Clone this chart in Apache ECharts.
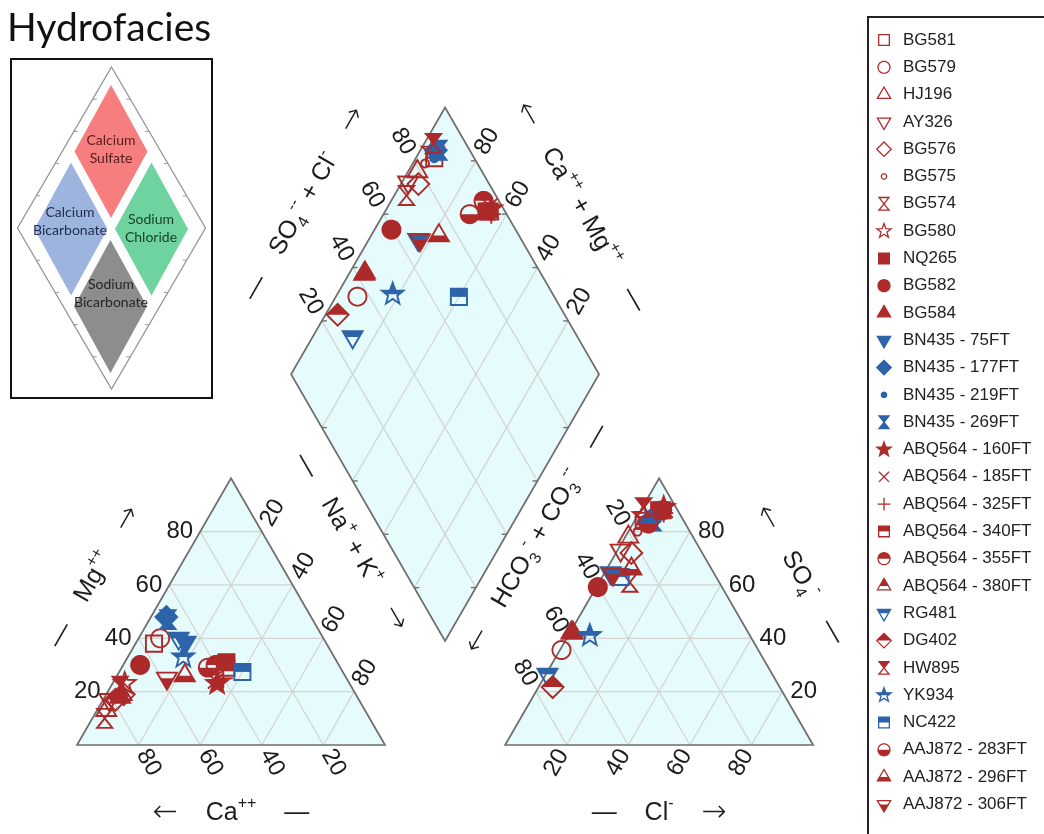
<!DOCTYPE html>
<html>
<head>
<meta charset="utf-8">
<title>Hydrofacies – Piper diagram</title>
<script src="https://cdn.jsdelivr.net/npm/echarts/dist/echarts.min.js"></script>
<style>
  html, body { margin: 0; padding: 0; background: #ffffff; }
  #chart { width: 1044px; height: 834px; }
</style>
</head>
<body>
<div id="chart"></div>
<script>
// ---------------------------------------------------------------------------
// Sample data (percent of total meq/L)
// ---------------------------------------------------------------------------
const samples = [
  'BG581', 'BG579', 'HJ196', 'AY326', 'BG576', 'BG575', 'BG574', 'BG580',
  'NQ265', 'BG582', 'BG584', 'BN435 - 75FT', 'BN435 - 177FT', 'BN435 - 219FT',
  'BN435 - 269FT', 'ABQ564 - 160FT', 'ABQ564 - 185FT', 'ABQ564 - 325FT',
  'ABQ564 - 340FT', 'ABQ564 - 355FT', 'ABQ564 - 380FT', 'RG481', 'DG402',
  'HW895', 'YK934', 'NC422', 'AAJ872 - 283FT', 'AAJ872 - 296FT', 'AAJ872 - 306FT'
];
const markerShapes = [
  'square', 'circle', 'triangle', 'triangleDown', 'diamond', 'dot', 'hourglass', 'star',
  'square', 'circle', 'triangle', 'triangleDown', 'diamond', 'dot',
  'hourglass', 'star', 'cross', 'plus',
  'square', 'circle', 'triangle', 'triangleDown', 'diamond',
  'hourglass', 'star', 'square', 'circle', 'triangle', 'triangleDown'
];
const markerFills = [
  'open', 'open', 'open', 'open', 'open', 'open', 'open', 'open',
  'full', 'full', 'full', 'full', 'full', 'full',
  'full', 'full', 'line', 'line',
  'top', 'top', 'top', 'top', 'top',
  'top', 'top', 'top', 'bottom', 'bottom', 'bottom'
];
const markerColors = [
  'r', 'r', 'r', 'r', 'r', 'r', 'r', 'r',
  'r', 'r', 'r', 'b', 'b', 'b',
  'b', 'r', 'r', 'r',
  'r', 'r', 'r', 'b', 'r',
  'r', 'b', 'b', 'r', 'r', 'r'
];

// Cations
const caPct  = [56, 53, 84, 81, 75.3, 76, 86, 73, 36, 64.5, 77, 45.5, 47, 48, 47, 43, 43, 40, 37, 40, 76, 47, 79, 75, 49, 32.6, 43, 52, 58.3];
const mgPct  = [38, 40, 13, 17, 19, 20, 10, 23, 31, 30, 18, 38.5, 48, 46, 47, 23, 24, 25, 29, 30, 19, 40, 17, 22, 33, 27.4, 29, 26, 25];
const naKPct = [6, 7, 3, 2, 5.7, 4, 4, 4, 33, 5.5, 5, 16, 5, 6, 6, 34, 33, 35, 34, 30, 5, 13, 4, 3, 18, 40, 28, 22, 16.7];
// Anions
const clPct   = [3, 0.5, 1, 1, 5, 3, 10, 2, 6, 0.5, 0.5, 2, 5, 4, 6, 7, 8, 8, 7, 7, 1, 0.5, 4.6, 0.5, 7, 6, 5, 8, 3];
const so4Pct  = [84, 35.6, 78, 73, 72, 80, 61, 86, 88, 59.2, 42, 64.5, 84, 83, 84, 89, 88, 87, 88, 88, 42, 26.5, 21.7, 89, 41, 63, 83, 66, 64];
const hco3Pct = [13, 63.9, 21, 26, 23, 17, 29, 12, 6, 40.3, 57.5, 33.5, 11, 13, 10, 4, 4, 5, 5, 5, 57, 73, 73.7, 10.5, 52, 31, 12, 26, 33];

const tickValues = [20, 40, 60, 80];

// ---------------------------------------------------------------------------
// Layout and style
// ---------------------------------------------------------------------------
const W = 1044, HGT = 834;
const PX = 3.08;                 // pixels per percent unit
const ORIGIN = [77, 745];        // pixel position of the cation triangle's Ca corner
const H = Math.sqrt(3) / 2;
const GAP = 39;                  // gap between the two triangles (percent units)
const BX = 100 + GAP / 2, BY = GAP * H;   // bottom corner of the diamond

const RED = '#ad2a2a', BLUE = '#2d63a9';
const PANEL_FILL = '#e6fbfc', GRID_COLOR = '#d3d3d3', EDGE_COLOR = '#6e6e6e';
const LABEL_FONT = 'Liberation Sans';
const TEXT_COLOR = '#1c1c1c';

// Ternary -> cartesian (percent units)
const cationXY = (ca, mg, na) => [na + mg / 2, mg * H];
const anionXY = (cl, so4, hco3) => [100 + GAP + cl + so4 / 2, so4 * H];
const diamondXY = (cm, an) => [BX + (an - cm) / 2, BY + (an + cm) * H];

const add = (p, v, k) => [p[0] + v[0] * k, p[1] + v[1] * k];
const mid = (a, b) => [(a[0] + b[0]) / 2, (a[1] + b[1]) / 2];
const U60 = [0.5, H], U120 = [-0.5, H], D60 = [0.5, -H], D120 = [-0.5, -H];
const N_LEFT = [-H, 0.5], N_RIGHT = [H, 0.5];

// Panels
const catTri = [cationXY(100, 0, 0), cationXY(0, 0, 100), cationXY(0, 100, 0)];
const anTri = [anionXY(0, 0, 100), anionXY(100, 0, 0), anionXY(0, 100, 0)];
const dL = diamondXY(100, 0), dT = diamondXY(100, 100), dR = diamondXY(0, 100), dB = diamondXY(0, 0);
const panels = [catTri, anTri, [dB, dR, dT, dL]];

// Grid lines
const gridSegs = [];
tickValues.forEach(t => {
  gridSegs.push([cationXY(100 - t, t, 0), cationXY(0, t, 100 - t)]);
  gridSegs.push([cationXY(100 - t, 0, t), cationXY(0, 100 - t, t)]);
  gridSegs.push([cationXY(t, 0, 100 - t), cationXY(t, 100 - t, 0)]);
  gridSegs.push([anionXY(0, t, 100 - t), anionXY(100 - t, t, 0)]);
  gridSegs.push([anionXY(t, 0, 100 - t), anionXY(t, 100 - t, 0)]);
  gridSegs.push([anionXY(0, 100 - t, t), anionXY(100 - t, 0, t)]);
  gridSegs.push([diamondXY(t, 0), diamondXY(t, 100)]);
  gridSegs.push([diamondXY(0, t), diamondXY(100, t)]);
});

// Small horizontal ticks on the diamond edges
const TICK = 1.6;
const tickSegs = [];
tickValues.forEach(t => {
  [[diamondXY(t, 0), 1], [diamondXY(100, t), 1], [diamondXY(t, 100), -1], [diamondXY(0, t), -1]]
    .forEach(([p, s]) => tickSegs.push([p, [p[0] + s * TICK, p[1]]]));
});

// Tick labels
const D_LAB = 7.0;
const tickLabels = [];
tickValues.forEach(t => {
  const s = String(t);
  tickLabels.push({ p: add(cationXY(100 - t, t, 0), [-1, 0], 2.3), rot: 0, align: 'right', text: s });
  tickLabels.push({ p: add(cationXY(0, 100 - t, t), U60, D_LAB), rot: 60, align: 'center', text: s });
  tickLabels.push({ p: add(cationXY(t, 0, 100 - t), D60, D_LAB - 0.4), rot: -60, align: 'center', text: s });
  tickLabels.push({ p: add(anionXY(t, 0, 100 - t), D120, D_LAB - 0.4), rot: 60, align: 'center', text: s });
  tickLabels.push({ p: add(anionXY(100 - t, t, 0), [1, 0], 2.6), rot: 0, align: 'left', text: s });
  tickLabels.push({ p: add(anionXY(0, 100 - t, t), U120, D_LAB), rot: -60, align: 'center', text: s });
  tickLabels.push({ p: add(diamondXY(100, t), U120, D_LAB + 0.3), rot: -60, align: 'center', text: s });
  tickLabels.push({ p: add(diamondXY(t, 100), U60, D_LAB + 0.3), rot: 60, align: 'center', text: s });
});

// Axis titles
const titleItems = [
  { p: add(mid(catTri[0], catTri[2]), N_LEFT, 22.5), rot: 60, text: '{t|—    Mg}{sup|++}{t|    }{ar|→}' },
  { p: add(add(mid(catTri[1], catTri[2]), N_RIGHT, 23.4), U120, 12.7), rot: -60, text: '{t|—    Na}{sup|+}{t| + K}{sup|+}{t|    }{ar|→}' },
  { p: [50, -22], rot: 0, text: '{ar|←}{t|    Ca}{sup|++}{t|    —}' },
  { p: add(add(mid(anTri[0], anTri[2]), N_LEFT, 24.5), U60, 13.2), rot: 60, text: '{ar|←}{t|    HCO}{sub|3}{sup|-}{t| + CO}{sub|3}{sup|--}{t|    —}' },
  { p: add(mid(anTri[1], anTri[2]), N_RIGHT, 24), rot: -60, text: '{ar|←}{t|    SO}{sub|4}{sup|-}{t|    —}' },
  { p: [189, -22], rot: 0, text: '{t|—    Cl}{sup|-}{t|    }{ar|→}' },
  { p: add(mid(dL, dT), N_LEFT, 24), rot: 60, text: '{t|—    SO}{sub|4}{sup|--}{t| + Cl}{sup|-}{t|    }{ar|→}' },
  { p: add(mid(dT, dR), N_RIGHT, 22), rot: -60, text: '{ar|←}{t|    Ca}{sup|++}{t| + Mg}{sup|++}{t|    —}' }
];
const titleRich = {
  t: { fontSize: 25, fontFamily: LABEL_FONT, fill: TEXT_COLOR, lineHeight: 34 },
  ar: { fontSize: 30, fontFamily: 'DejaVu Sans', fontWeight: 200, fill: TEXT_COLOR, lineHeight: 34 },
  sup: { fontSize: 16, fontFamily: LABEL_FONT, fill: TEXT_COLOR, verticalAlign: 'top', lineHeight: 16 },
  sub: { fontSize: 16, fontFamily: LABEL_FONT, fill: TEXT_COLOR, verticalAlign: 'bottom', lineHeight: 16 }
};

// ---------------------------------------------------------------------------
// Marker drawing
// ---------------------------------------------------------------------------
function ngon(r, n) {
  const pts = [];
  for (let k = 0; k < n; k++) {
    const a = 2 * Math.PI * k / n;
    pts.push([r * Math.cos(a), r * Math.sin(a)]);
  }
  return pts;
}
function starPts(ro, ri) {
  const pts = [];
  for (let k = 0; k < 10; k++) {
    const a = -Math.PI / 2 + k * Math.PI / 5;
    const r = k % 2 ? ri : ro;
    pts.push([r * Math.cos(a), r * Math.sin(a)]);
  }
  return pts;
}
function shapePolys(kind) {
  switch (kind) {
    case 'square': return [[[-0.85, -0.85], [0.85, -0.85], [0.85, 0.85], [-0.85, 0.85]]];
    case 'circle': return [ngon(0.95, 40)];
    case 'dot': return [ngon(0.42, 24)];
    case 'triangle': return [[[0, -1.2], [1.05, 0.6], [-1.05, 0.6]]];
    case 'triangleDown': return [[[-1.05, -0.6], [1.05, -0.6], [0, 1.2]]];
    case 'diamond': return [[[0, -1.15], [1.15, 0], [0, 1.15], [-1.15, 0]]];
    case 'hourglass': return [[[-0.8, -1], [0.8, -1], [0, 0]], [[0, 0], [0.8, 1], [-0.8, 1]]];
    case 'star': return [starPts(1.2, 0.5)];
  }
  return [];
}
// keep the part of a polygon above (top) or below (bottom) the line y = cut (screen y grows downward)
function clipPoly(pts, keepTop, cut) {
  const out = [];
  const inside = p => keepTop ? p[1] <= cut : p[1] >= cut;
  for (let i = 0; i < pts.length; i++) {
    const a = pts[i], b = pts[(i + 1) % pts.length];
    const ina = inside(a), inb = inside(b);
    if (ina) out.push(a);
    if (ina !== inb) {
      const f = (cut - a[1]) / (b[1] - a[1]);
      out.push([a[0] + f * (b[0] - a[0]), cut]);
    }
  }
  return out;
}
function marker(idx, cx, cy, r, lw) {
  const color = markerColors[idx] === 'b' ? BLUE : RED;
  const kind = markerShapes[idx], mode = markerFills[idx];
  const children = [];
  if (kind === 'cross' || kind === 'plus') {
    const segs = kind === 'cross'
      ? [[-0.8, -0.8, 0.8, 0.8], [-0.8, 0.8, 0.8, -0.8]]
      : [[-1, 0, 1, 0], [0, -1, 0, 1]];
    segs.forEach(s => children.push({
      type: 'line',
      shape: { x1: cx + s[0] * r, y1: cy + s[1] * r, x2: cx + s[2] * r, y2: cy + s[3] * r },
      style: { stroke: color, lineWidth: lw }
    }));
    return { type: 'group', children };
  }
  const toPx = poly => poly.map(p => [cx + p[0] * r, cy + p[1] * r]);
  shapePolys(kind).forEach(poly => {
    if (mode === 'top' || mode === 'bottom') {
      const part = clipPoly(poly, mode === 'top', 0);
      if (part.length > 2) {
        children.push({ type: 'polygon', shape: { points: toPx(part) }, style: { fill: color } });
      }
    }
    children.push({
      type: 'polygon',
      shape: { points: toPx(poly) },
      style: { fill: mode === 'full' ? color : 'none', stroke: color, lineWidth: lw }
    });
  });
  return { type: 'group', children };
}

// ---------------------------------------------------------------------------
// Series
// ---------------------------------------------------------------------------
const series = [];

series.push({
  type: 'custom', name: 'panels', silent: true,
  data: panels.map((_, i) => [i]),
  renderItem: (params, api) => ({
    type: 'polygon',
    shape: { points: panels[params.dataIndex].map(p => api.coord(p)) },
    style: { fill: PANEL_FILL }
  })
});
series.push({
  type: 'custom', name: 'grid lines', silent: true,
  data: gridSegs.map((_, i) => [i]),
  renderItem: (params, api) => {
    const s = gridSegs[params.dataIndex];
    const a = api.coord(s[0]), b = api.coord(s[1]);
    return { type: 'line', shape: { x1: a[0], y1: a[1], x2: b[0], y2: b[1] },
             style: { stroke: GRID_COLOR, lineWidth: 1.2 } };
  }
});
series.push({
  type: 'custom', name: 'panel edges', silent: true,
  data: panels.map((_, i) => [i]),
  renderItem: (params, api) => ({
    type: 'polygon',
    shape: { points: panels[params.dataIndex].map(p => api.coord(p)) },
    style: { fill: 'none', stroke: EDGE_COLOR, lineWidth: 1.7 }
  })
});
series.push({
  type: 'custom', name: 'edge ticks', silent: true,
  data: tickSegs.map((_, i) => [i]),
  renderItem: (params, api) => {
    const s = tickSegs[params.dataIndex];
    const a = api.coord(s[0]), b = api.coord(s[1]);
    return { type: 'line', shape: { x1: a[0], y1: a[1], x2: b[0], y2: b[1] },
             style: { stroke: EDGE_COLOR, lineWidth: 1.4 } };
  }
});
series.push({
  type: 'custom', name: 'tick labels', silent: true,
  data: tickLabels.map((_, i) => [i]),
  renderItem: (params, api) => {
    const it = tickLabels[params.dataIndex];
    const c = api.coord(it.p);
    return {
      type: 'text', x: c[0], y: c[1], rotation: it.rot * Math.PI / 180,
      style: { text: it.text, fontSize: 24, fontFamily: LABEL_FONT, fill: TEXT_COLOR,
               align: it.align, verticalAlign: 'middle' }
    };
  }
});
series.push({
  type: 'custom', name: 'axis titles', silent: true,
  data: titleItems.map((_, i) => [i]),
  renderItem: (params, api) => {
    const it = titleItems[params.dataIndex];
    const c = api.coord(it.p);
    return {
      type: 'text', x: c[0], y: c[1], rotation: it.rot * Math.PI / 180,
      style: { text: it.text, rich: titleRich, fontSize: 25, fontFamily: LABEL_FONT,
               fill: TEXT_COLOR, align: 'center', verticalAlign: 'middle' }
    };
  }
});

// Sample markers: cation triangle, anion triangle, diamond
samples.forEach((name, i) => {
  const pts = [
    cationXY(caPct[i], mgPct[i], naKPct[i]),
    anionXY(clPct[i], so4Pct[i], hco3Pct[i]),
    diamondXY(caPct[i] + mgPct[i], clPct[i] + so4Pct[i])
  ];
  series.push({
    type: 'custom', name, silent: true,
    data: pts,
    renderItem: (params, api) => {
      const c = api.coord([api.value(0), api.value(1)]);
      return marker(i, c[0], c[1], 9.5, 1.9);
    }
  });
});

// Legend rows
const LEG_SYMBOL_X = 14, LEG_TEXT_X = 33;
series.push({
  type: 'custom', name: 'legend', silent: true,
  xAxisIndex: 1, yAxisIndex: 1,
  data: samples.map((_, i) => [LEG_SYMBOL_X, i]),
  renderItem: (params, api) => {
    const i = params.dataIndex;
    const c = api.coord([LEG_SYMBOL_X, i]);
    const t = api.coord([LEG_TEXT_X, i]);
    return {
      type: 'group',
      children: [
        marker(i, c[0], c[1], 6.3, 1.3),
        { type: 'text', x: t[0], y: t[1],
          style: { text: samples[i], fontSize: 17, fontFamily: LABEL_FONT, fill: '#222',
                   align: 'left', verticalAlign: 'middle' } }
      ]
    };
  }
});

// ---------------------------------------------------------------------------
// Hydrofacies key (top left)
// ---------------------------------------------------------------------------
const KEY_CX = 111.5, KEY_CY = 228, KEY_HW = 94, KEY_HH = 161;
const ZONE_HW = 36.5, ZONE_HH = 66.5;
const zones = [
  { c: [111, 151.5], fill: '#f67e7e', ink: '#561b1b', label: 'Calcium\nSulfate', t: [111, 149] },
  { c: [71, 229], fill: '#9db4de', ink: '#1f2c50', label: 'Calcium\nBicarbonate', t: [70, 221] },
  { c: [151.5, 229], fill: '#6fd39f', ink: '#163d27', label: 'Sodium\nChloride', t: [151, 228] },
  { c: [110.5, 306.5], fill: '#8d8d8d', ink: '#262626', label: 'Sodium\nBicarbonate', t: [111, 293] }
];
const rhombus = (c, hw, hh) => [[c[0], c[1] - hh], [c[0] + hw, c[1]], [c[0], c[1] + hh], [c[0] - hw, c[1]]];
const keyOuter = rhombus([KEY_CX, KEY_CY], KEY_HW, KEY_HH);
const keyTicks = [];
for (let e = 0; e < 4; e++) {
  const a = keyOuter[e], b = keyOuter[(e + 1) % 4];
  const inward = (a[0] + b[0]) / 2 < KEY_CX ? 1 : -1;
  [0.2, 0.4, 0.6, 0.8].forEach(f => {
    const x = a[0] + (b[0] - a[0]) * f, y = a[1] + (b[1] - a[1]) * f;
    keyTicks.push({ type: 'line', shape: { x1: x, y1: y, x2: x + inward * 4, y2: y },
                    style: { stroke: '#9a9a9a', lineWidth: 1 } });
  });
}
const graphic = [
  { type: 'text', x: 7, y: 9, style: { text: 'Hydrofacies', font: '39px Lato', fill: '#111' } },
  { type: 'rect', shape: { x: 11, y: 59, width: 201, height: 339 },
    style: { fill: '#ffffff', stroke: '#111111', lineWidth: 2 } },
  { type: 'polygon', shape: { points: keyOuter }, style: { fill: '#ffffff', stroke: '#8f8f8f', lineWidth: 1.2 } }
].concat(keyTicks)
 .concat(zones.map(z => ({ type: 'polygon', shape: { points: rhombus(z.c, ZONE_HW, ZONE_HH) }, style: { fill: z.fill } })))
 .concat(zones.map(z => ({
   type: 'text', x: z.t[0], y: z.t[1],
   style: { text: z.label, font: '14px Lato', fill: z.ink, align: 'center', verticalAlign: 'middle', lineHeight: 18 }
 })))
 .concat([
   { type: 'rect', shape: { x: 868, y: 17, width: 200, height: 840 },
     style: { fill: 'none', stroke: '#222222', lineWidth: 2 } }
 ]);

// ---------------------------------------------------------------------------
const chart = echarts.init(document.getElementById('chart'), null, { renderer: 'canvas' });
chart.setOption({
  animation: false,
  backgroundColor: '#ffffff',
  grid: [
    { left: 0, top: 0, width: W, height: HGT, show: false },
    { left: 870, top: 26.35, width: 170, height: 791.7, show: false }
  ],
  xAxis: [
    { type: 'value', gridIndex: 0, min: -ORIGIN[0] / PX, max: (W - ORIGIN[0]) / PX, show: false },
    { type: 'value', gridIndex: 1, min: 0, max: 170, show: false }
  ],
  yAxis: [
    { type: 'value', gridIndex: 0, min: -(HGT - ORIGIN[1]) / PX, max: ORIGIN[1] / PX, show: false },
    { type: 'category', gridIndex: 1, data: samples, inverse: true, show: false }
  ],
  graphic,
  series
});
</script>
</body>
</html>
